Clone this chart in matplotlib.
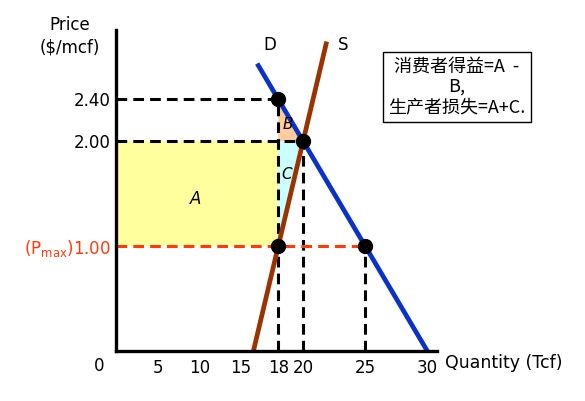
import numpy as np
import matplotlib
matplotlib.use("Agg")
import matplotlib.pyplot as plt

plt.rcParams['font.family'] = ['DejaVu Sans']
plt.rcParams['mathtext.default'] = 'regular'

# market for natural gas with a price ceiling
demand_q = [16.3, 30]
demand_p = [2.74, 0]
supply_q = [16, 21.9]
supply_p = [0, 2.95]

p_ceiling = 1.00
p_equil = 2.00
p_buyers = 2.40
q_supplied = 18
q_equil = 20
q_demanded = 25

dot_q = [q_supplied, q_equil, q_supplied, q_demanded]
dot_p = [p_buyers, p_equil, p_ceiling, p_ceiling]

xticks = [5, 10, 15, 18, 20, 25, 30]
yticks = [p_ceiling, p_equil, p_buyers]
ylabels = ['(P$_{max}$)1.00', '2.00', '2.40']

red = '#ff3a0a'


# the low quantities are squeezed so the interesting part gets the room
def fwd(x):
    return np.interp(x, [0, 15, 40], [0, 125, 435.5])


def inv(v):
    return np.interp(v, [0, 125, 435.5], [0, 15, 40])


fig = plt.figure(figsize=(5.85, 4.01), dpi=100)
ax = fig.add_axes([116 / 585, 50 / 401, 321 / 585, 321 / 401])
ax.set_xscale('function', functions=(fwd, inv))
ax.set_xlim(0, 30.78)
ax.set_ylim(0, 3.06)

for side in ['top', 'right']:
    ax.spines[side].set_visible(False)
for side in ['left', 'bottom']:
    ax.spines[side].set_linewidth(2.4)
    ax.spines[side].set_zorder(6)

# shaded areas
ax.fill_between([0, q_supplied], p_ceiling, p_equil, color='#ffff9e', lw=0, zorder=1)
ax.fill([q_supplied, q_supplied, q_equil], [p_equil, p_buyers, p_equil],
        color='#ffcc9c', lw=0, zorder=1)
ax.fill([q_supplied, q_supplied, q_equil], [p_ceiling, p_equil, p_equil],
        color='#ccffff', lw=0, zorder=1)

dash = (0, (3.5, 2))
ax.plot([0, q_supplied], [p_buyers, p_buyers], color='black', lw=2.2, ls=dash, zorder=2)
ax.plot([0, q_equil], [p_equil, p_equil], color='black', lw=2.2, ls=dash, zorder=2)
ax.plot([q_supplied, q_supplied], [0, p_buyers], color='black', lw=2.2, ls=dash, zorder=2)
ax.plot([q_equil, q_equil], [0, p_equil], color='black', lw=2.2, ls=dash, zorder=2)
ax.plot([q_demanded, q_demanded], [0, p_ceiling], color='black', lw=2.2, ls=dash, zorder=2)
ax.plot([0, q_demanded], [p_ceiling, p_ceiling], color=red, lw=2.2, ls=dash, zorder=2)

ax.plot(demand_q, demand_p, color='#0a32c8', lw=3.4, solid_capstyle='butt', zorder=3)
ax.plot(supply_q, supply_p, color='#993300', lw=3.4, solid_capstyle='butt', zorder=3)
ax.plot(dot_q, dot_p, 'o', color='black', ms=10, zorder=4)

ax.text(9.5, 1.45, 'A', fontsize=12, style='italic', ha='center', va='center')
ax.text(18.75, 2.16, 'B', fontsize=11, style='italic', ha='center', va='center')
ax.text(18.7, 1.68, 'C', fontsize=11, style='italic', ha='center', va='center')
ax.text(17.3, 2.92, 'D', fontsize=12, ha='center', va='center')
ax.text(23.2, 2.92, 'S', fontsize=12, ha='center', va='center')

ax.set_xticks(xticks)
ax.set_xticklabels([str(t) for t in xticks], fontsize=12)
ax.set_yticks(yticks)
ax.set_yticklabels(ylabels, fontsize=12)
ax.get_yticklabels()[0].set_color(red)
ax.tick_params(length=0)
ax.tick_params(axis='x', pad=6)
ax.tick_params(axis='y', pad=4)
ax.annotate('0', (0, 0), xytext=(-12, -11), textcoords='offset points',
            ha='center', va='center', fontsize=12, annotation_clip=False)

fig.text(70 / 585, 1 - 36 / 401, 'Price\n($/mcf)', ha='center', va='center',
         fontsize=12, linespacing=1.35)
fig.text(445 / 585, 1 - 363 / 401, 'Quantity (Tcf)', ha='left', va='center',
         fontsize=12.5)

fig.text(457 / 585, 1 - 87 / 401, '消费者得益=A  -\nB,\n生产者损失=A+C.',
         ha='center', va='center', fontsize=13, linespacing=1.2,
         family=['Noto Sans CJK SC', 'DejaVu Sans'],
         bbox=dict(boxstyle='square,pad=0.3', fc='white', ec='black', lw=1))

fig.savefig('out.png', dpi=100)
